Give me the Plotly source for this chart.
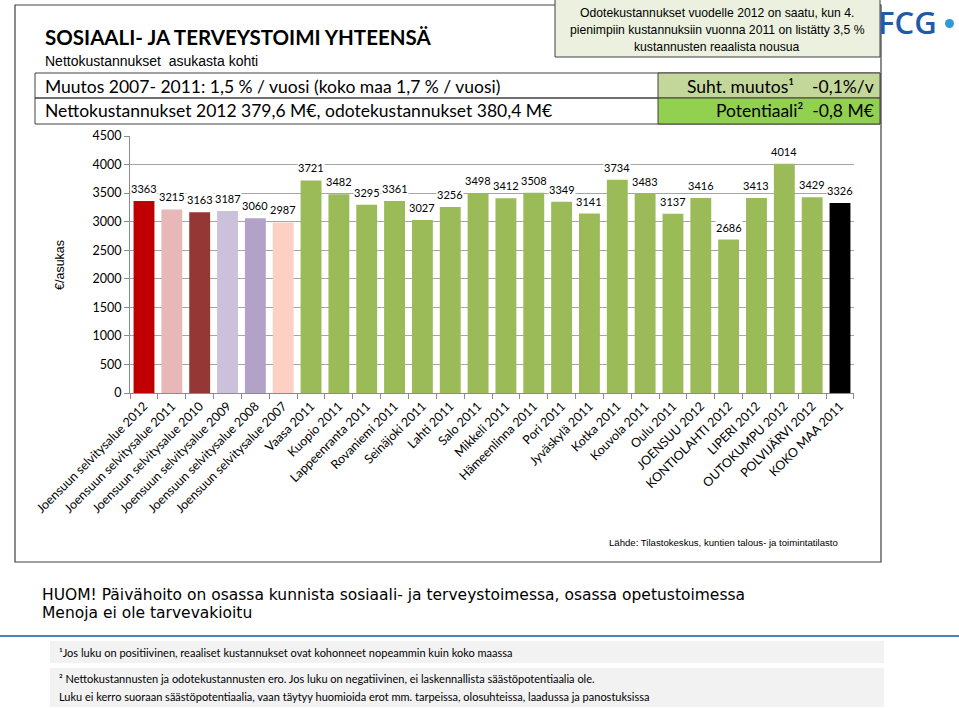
import plotly.graph_objects as go

# ---------------- data ----------------
categories = [
    "Joensuun selvitysalue 2012", "Joensuun selvitysalue 2011", "Joensuun selvitysalue 2010",
    "Joensuun selvitysalue 2009", "Joensuun selvitysalue 2008", "Joensuun selvitysalue 2007",
    "Vaasa 2011", "Kuopio 2011", "Lappeenranta 2011", "Rovaniemi 2011", "Seinäjoki 2011",
    "Lahti 2011", "Salo 2011", "Mikkeli 2011", "Hämeenlinna 2011", "Pori 2011",
    "Jyväskylä 2011", "Kotka 2011", "Kouvola 2011", "Oulu 2011", "JOENSUU 2012",
    "KONTIOLAHTI 2012", "LIPERI 2012", "OUTOKUMPU 2012", "POLVIJÄRVI 2012", "KOKO MAA 2011",
]
values = [3363, 3215, 3163, 3187, 3060, 2987, 3721, 3482, 3295, 3361, 3027, 3256, 3498,
          3412, 3508, 3349, 3141, 3734, 3483, 3137, 3416, 2686, 3413, 4014, 3429, 3326]
y_ticks = [0, 500, 1000, 1500, 2000, 2500, 3000, 3500, 4000, 4500]

# ---------------- styles ----------------
GREEN = "#9bbb59"
bar_colors = ["#c00000", "#e6b9b8", "#953735", "#ccc1da", "#b3a2c7", "#fcd0c2"] + \
             [GREEN] * 19 + ["#000000"]

W, H = 959, 708
L, R, T, B = 130, 854, 136, 393
CAL = "Lato, Carlito, Calibri, sans-serif"
ARI = "Liberation Sans, Arial, sans-serif"


def px(x):
    return (x - L) / (R - L)


def py(y):
    return (B - y) / (B - T)


fig = go.Figure()
fig.add_trace(go.Bar(
    x=categories, y=values,
    marker=dict(color=bar_colors, line=dict(width=0)),
    hoverinfo="x+y",
))

shapes = []
annotations = []


def rect(x0, y0, x1, y1, fill="rgba(0,0,0,0)", line="#404040", lw=1):
    shapes.append(dict(type="rect", xref="paper", yref="paper",
                       x0=px(x0), x1=px(x1), y0=py(y1), y1=py(y0),
                       fillcolor=fill, line=dict(color=line, width=lw), layer="above"))


def text(x, y, s, size, font=ARI, color="#000000", xanchor="left", yanchor="middle",
         weight="normal", **kw):
    annotations.append(dict(xref="paper", yref="paper", x=px(x), y=py(y), text=s,
                            showarrow=False, xanchor=xanchor, yanchor=yanchor,
                            font=dict(family=font, size=size, color=color, weight=weight), **kw))


# outer box
rect(15, 5, 881, 562, line="#404040", lw=1.2)
# header rows
rect(35, 73, 880, 98, line="#404040")
rect(35, 98, 880, 124, line="#404040")
rect(658, 73, 880, 98, fill="#c4d79b", line="#404040")
rect(658, 98, 880, 124, fill="#92d050", line="#404040")
# top-right note box
rect(555, -3, 880, 57, fill="#ebf1de", line="#404040")

# header texts
text(43, 37, "SOSIAALI- JA TERVEYSTOIMI YHTEENSÄ", 20.5, font=CAL, weight="bold")
text(43, 61, "Nettokustannukset  asukasta kohti", 14, font=ARI)
text(43, 86, "Muutos 2007- 2011: 1,5 % / vuosi (koko maa 1,7 % / vuosi)", 17.5, font=CAL)
text(43, 111, "Nettokustannukset 2012 379,6 M€, odotekustannukset 380,4 M€", 17.5, font=CAL)
text(876, 86, "Suht. muutos¹    -0,1%/v", 17.5, font=CAL, xanchor="right")
text(876, 111, "Potentiaali²  -0,8 M€", 17.5, font=CAL, xanchor="right")
text(717, 13, "Odotekustannukset vuodelle 2012 on saatu, kun 4.", 12.2, font=ARI, xanchor="center")
text(717, 30, "pienimpiin kustannuksiin vuonna 2011 on listätty 3,5 %", 12.2, font=ARI, xanchor="center")
text(717, 47, "kustannusten reaalista nousua", 12.2, font=ARI, xanchor="center")

# FCG logo
text(877, 0, "FCG", 31, font="Open Sans, sans-serif", color="#1f5ba8", weight=600,
     yanchor="top", borderpad=0)
shapes.append(dict(type="circle", xref="paper", yref="paper",
                   x0=px(945), x1=px(954), y0=py(28), y1=py(19),
                   fillcolor="#2f9ad8", line=dict(width=0), layer="above"))

# y axis title
text(60, 265, "€/asukas", 12.5, font=ARI, xanchor="center", textangle=-90)

# source
text(840, 542, "Lähde: Tilastokeskus, kuntien talous- ja toimintatilasto", 9.6, font=ARI,
     xanchor="right")

# notes below
text(40, 595, "HUOM! Päivähoito on osassa kunnista sosiaali- ja terveystoimessa, osassa opetustoimessa",
     15.5, font="DejaVu Sans, sans-serif")
text(40, 613, "Menoja ei ole tarvevakioitu", 15.5, font="DejaVu Sans, sans-serif")

shapes.append(dict(type="line", xref="paper", yref="paper",
                   x0=px(0), x1=px(959), y0=py(636), y1=py(636),
                   line=dict(color="#4f81bd", width=2), layer="above"))
rect(50, 641, 884, 663, fill="#f2f2f2", line="rgba(0,0,0,0)", lw=0)
rect(50, 668, 884, 707, fill="#f2f2f2", line="rgba(0,0,0,0)", lw=0)
text(57, 652, "¹Jos luku on positiivinen, reaaliset kustannukset ovat kohonneet nopeammin kuin koko maassa",
     11, font=CAL)
text(57, 678, "² Nettokustannusten ja odotekustannusten ero. Jos luku on negatiivinen, ei laskennallista säästöpotentiaalia ole.",
     11, font=CAL)
text(57, 696, "Luku ei kerro suoraan säästöpotentiaalia, vaan täytyy huomioida erot mm. tarpeissa, olosuhteissa, laadussa ja panostuksissa",
     11, font=CAL)

# bar value labels
for c, v in zip(categories, values):
    annotations.append(dict(x=c, y=v, xref="x", yref="y", text=str(v), showarrow=False,
                            yanchor="bottom", yshift=5, bgcolor="white", borderpad=0,
                            font=dict(family=CAL, size=11, color="#000000")))

fig.update_layout(
    width=W, height=H,
    margin=dict(l=L, r=W - R, t=T, b=H - B, autoexpand=False),
    paper_bgcolor="white", plot_bgcolor="white",
    showlegend=False, bargap=0.25,
    shapes=shapes, annotations=annotations,
    xaxis=dict(type="category", tickangle=-45, showgrid=False,
               showline=True, linecolor="#8c8c8c", linewidth=1,
               ticks="outside", tickson="boundaries", ticklen=5, tickcolor="#8c8c8c",
               tickfont=dict(family=CAL, size=12.5, color="#000000")),
    yaxis=dict(range=[0, 4500], tickvals=y_ticks, showgrid=True, gridcolor="#a6a6a6",
               gridwidth=1, showline=True, linecolor="#8c8c8c", ticks="outside",
               ticklen=5, tickcolor="#8c8c8c", zeroline=False,
               tickfont=dict(family=CAL, size=12.5, color="#000000")),
)

fig.write_html("out.html", config={"displayModeBar": False},
               post_script="document.body.style.margin='0';document.body.style.overflow='hidden';")
